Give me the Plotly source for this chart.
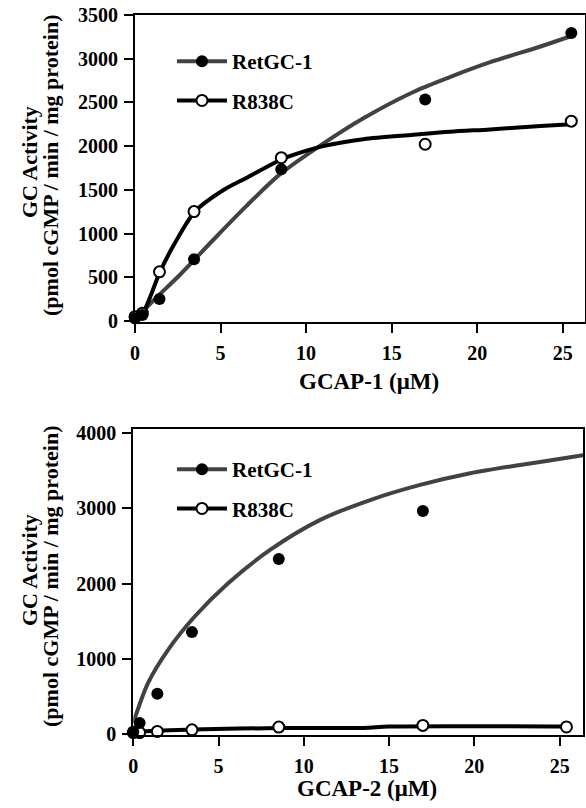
import plotly.graph_objects as go

# ---------------- data ----------------
# Panel A: GCAP-1
a_conc = [0, 0.43, 1.43, 3.45, 8.55, 16.96, 25.5]
a_wt = [30, 70, 251, 708, 1735, 2534, 3295]
a_mut = [50, 90, 563, 1252, 1868, 2022, 2286]

a_fit_wt_x = [0, 1.0, 2.63, 4.58, 6.53, 8.48, 11.0, 13.35, 16.27, 18.4, 20.76, 23.7, 25.5]
a_fit_wt_y = [10, 220, 530, 930, 1320, 1680, 2030, 2320, 2620, 2790, 2960, 3140, 3260]
a_fit_mut_x = [0, 0.45, 1.46, 2.24, 3.5, 5.24, 6.53, 8.52, 9.65, 11.0, 13.35, 16.27, 18.4, 20.76, 23.7, 25.5]
a_fit_mut_y = [30, 90, 563, 860, 1252, 1507, 1640, 1845, 1926, 2001, 2080, 2130, 2165, 2192, 2230, 2250]

# Panel B: GCAP-2
b_conc_wt = [0, 0.37, 1.41, 3.44, 8.53, 16.98]
b_wt = [30, 146, 535, 1355, 2328, 2965]
b_conc_mut = [0, 0.37, 1.41, 3.44, 8.53, 16.98, 25.4]
b_mut = [20, 20, 35, 57, 93, 115, 95]

b_fit_wt_x = [0, 0.86, 2.04, 3.6, 5.56, 8.02, 10.96, 13.89, 16.82, 19.76, 22.69, 25.62, 26.5]
b_fit_wt_y = [150, 677, 1120, 1562, 2005, 2447, 2846, 3110, 3311, 3466, 3576, 3678, 3709]
b_fit_mut_x = [0, 1.41, 3.44, 8.53, 13.5, 15, 25.4]
b_fit_mut_y = [30, 45, 62, 80, 82, 100, 100]

names = ["RetGC-1", "R838C"]
a_xticks = [0, 5, 10, 15, 20, 25]
a_yticks = [0, 500, 1000, 1500, 2000, 2500, 3000, 3500]
b_yticks = [0, 1000, 2000, 3000, 4000]
y_title1 = "GC Activity"
y_title2 = "(pmol cGMP / min / mg protein)"
a_xtitle = "GCAP-1 (μM)"
b_xtitle = "GCAP-2 (μM)"

# ---------------- styles ----------------
FONT = "Liberation Serif"
GRAY = "#424242"
BLACK = "#000000"
W, H = 586, 808

fig = go.Figure()

def add_panel(xa, ya, legend, fwx, fwy, fmx, fmy, cwx, wy, cmx, my):
    fig.add_trace(go.Scatter(x=fwx, y=fwy, mode="lines", line=dict(color=GRAY, width=4, shape="spline", smoothing=0.8),
                             xaxis=xa, yaxis=ya, showlegend=False, hoverinfo="skip"))
    fig.add_trace(go.Scatter(x=fmx, y=fmy, mode="lines", line=dict(color=BLACK, width=4, shape="spline", smoothing=0.8),
                             xaxis=xa, yaxis=ya, showlegend=False, hoverinfo="skip"))
    fig.add_trace(go.Scatter(x=cmx, y=my, mode="markers", cliponaxis=False,
                             marker=dict(symbol="circle", size=11, color="white", line=dict(color=BLACK, width=2)),
                             xaxis=xa, yaxis=ya, showlegend=False))
    fig.add_trace(go.Scatter(x=cwx, y=wy, mode="markers", cliponaxis=False,
                             marker=dict(symbol="circle", size=12, color=BLACK, line=dict(color=BLACK, width=0)),
                             xaxis=xa, yaxis=ya, showlegend=False))
    # legend entries
    fig.add_trace(go.Scatter(x=[None], y=[None], mode="lines+markers", name=names[0], legend=legend,
                             legendgroup=legend + "a",
                             line=dict(color=GRAY, width=4), marker=dict(size=12, color=BLACK),
                             xaxis=xa, yaxis=ya))
    fig.add_trace(go.Scatter(x=[None], y=[None], mode="lines+markers", name=names[1], legend=legend,
                             legendgroup=legend + "b",
                             line=dict(color=BLACK, width=4),
                             marker=dict(size=11, color="white", line=dict(color=BLACK, width=2)),
                             xaxis=xa, yaxis=ya))

add_panel("x", "y", "legend", a_fit_wt_x, a_fit_wt_y, a_fit_mut_x, a_fit_mut_y, a_conc, a_wt, a_conc, a_mut)
add_panel("x2", "y2", "legend2", b_fit_wt_x, b_fit_wt_y, b_fit_mut_x, b_fit_mut_y, b_conc_wt, b_wt, b_conc_mut, b_mut)

tickfont = dict(family=FONT, size=20, color=BLACK, weight="bold")
axis_common = dict(showline=True, linewidth=2, linecolor=BLACK, mirror=True, ticks="outside", ticklen=9,
                   tickwidth=2, tickcolor=BLACK, showgrid=False, zeroline=False, tickfont=tickfont,
                   automargin=False)
xax = dict(ticklabelstandoff=3, **axis_common)
yax = dict(ticklabelstandoff=2, **axis_common)

legend_common = dict(font=dict(family=FONT, size=21, color=BLACK, weight="bold"), bgcolor="rgba(0,0,0,0)",
                     borderwidth=0, itemwidth=50, tracegroupgap=9, traceorder="grouped",
                     xanchor="left", yanchor="top")

fig.update_layout(
    width=W, height=H, margin=dict(l=0, r=0, t=0, b=0),
    paper_bgcolor="white", plot_bgcolor="white",
    xaxis=dict(domain=[135 / W, 585 / W], range=[0, 26.3], tickvals=a_xticks, anchor="y", **xax),
    yaxis=dict(domain=[1 - 321.5 / H, 1 - 15 / H], range=[-5, 3500], tickvals=a_yticks, anchor="x", **yax),
    xaxis2=dict(domain=[133.3 / W, 583 / W], range=[0, 26.37], tickvals=a_xticks, anchor="y2", **xax),
    yaxis2=dict(domain=[1 - 735 / H, 1 - 429.3 / H], range=[-12, 4050], tickvals=b_yticks, anchor="x2", **yax),
    legend=dict(x=172 / W, y=1 - 41 / H, **legend_common),
    legend2=dict(x=172 / W, y=1 - 449 / H, **legend_common),
    showlegend=True,
)

tfont = dict(family=FONT, size=22, color=BLACK, weight="bold")
xtfont = dict(family=FONT, size=23, color=BLACK, weight="bold")
ann = []
for (x1, y1, x2, y2) in [(30, 162, 51, 166), (29, 570, 50, 577)]:
    ann.append(dict(text=y_title1, x=x1 / W, y=1 - y1 / H, xref="paper", yref="paper", textangle=-90,
                    showarrow=False, font=tfont, xanchor="center", yanchor="middle"))
    ann.append(dict(text=y_title2, x=x2 / W, y=1 - y2 / H, xref="paper", yref="paper", textangle=-90,
                    showarrow=False, font=tfont, xanchor="center", yanchor="middle"))
ann.append(dict(text=a_xtitle, x=369 / W, y=1 - 381 / H, xref="paper", yref="paper", showarrow=False,
                font=xtfont, xanchor="center", yanchor="middle"))
ann.append(dict(text=b_xtitle, x=367 / W, y=1 - 788 / H, xref="paper", yref="paper", showarrow=False,
                font=xtfont, xanchor="center", yanchor="middle"))
fig.update_layout(annotations=ann)

fig.write_html("out.html")
